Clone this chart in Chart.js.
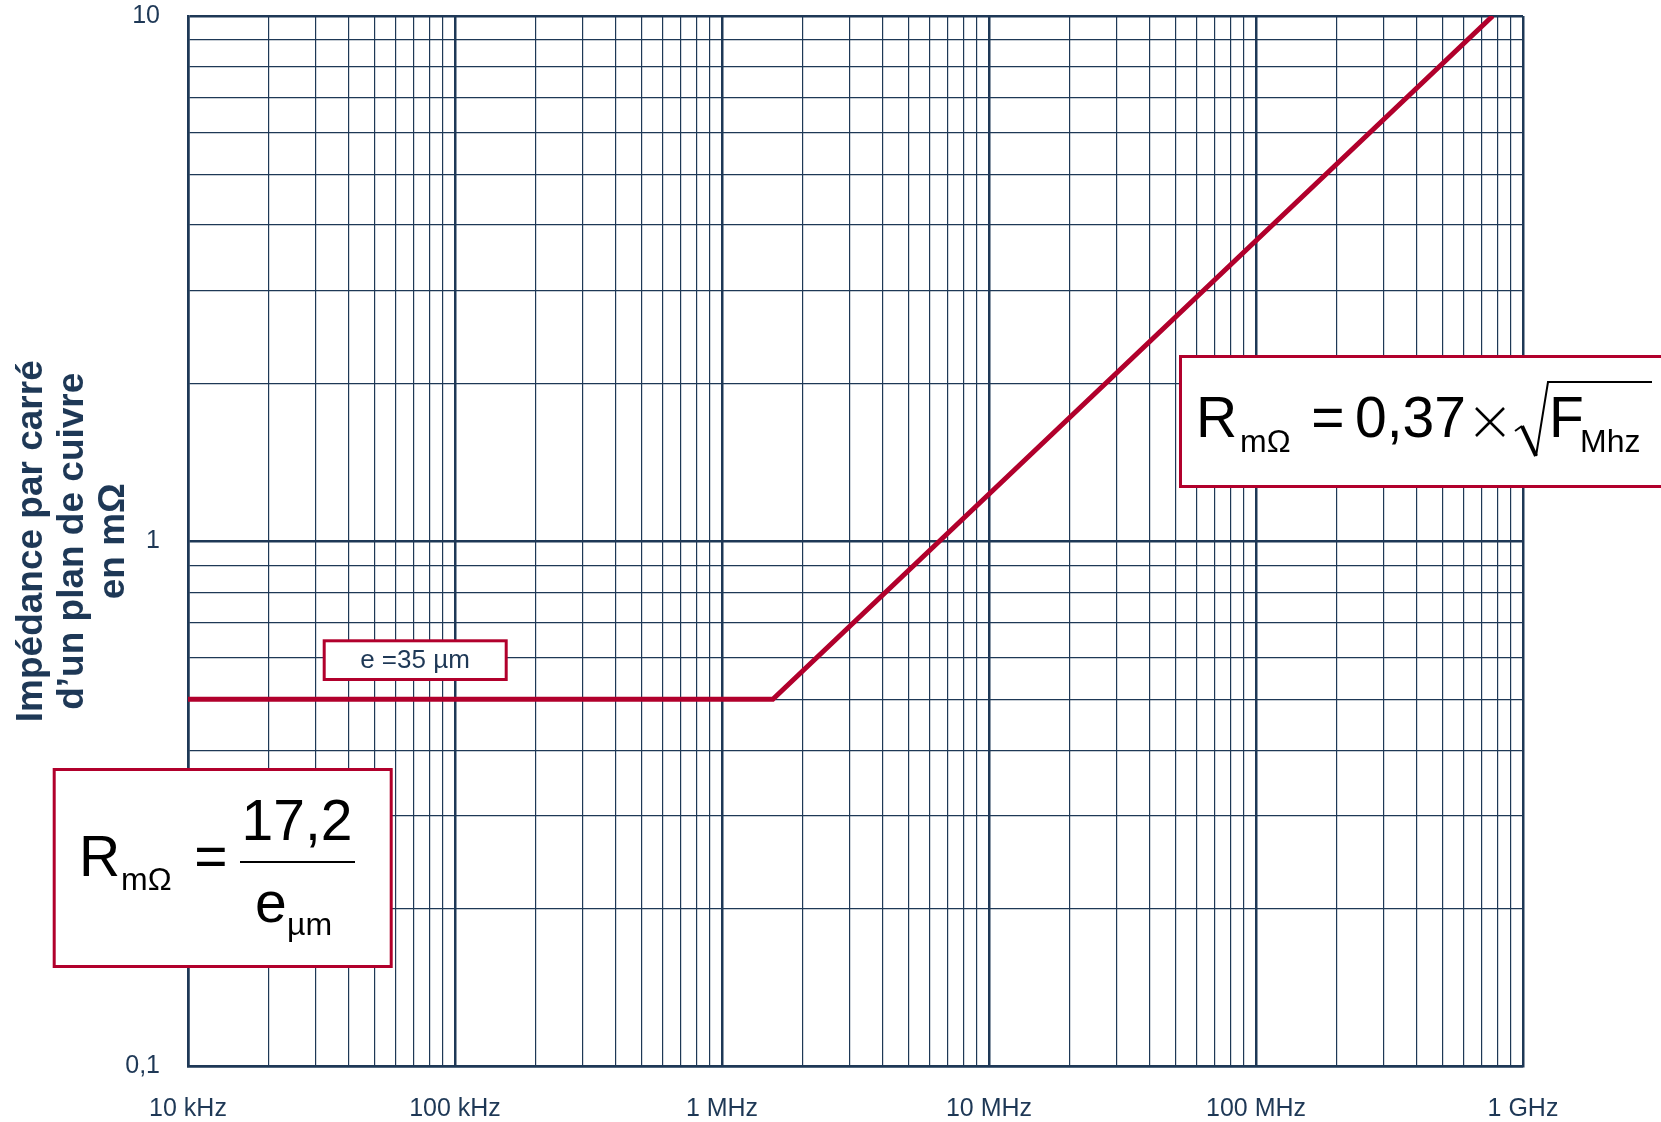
<!DOCTYPE html>
<html><head><meta charset="utf-8">
<script src="https://cdn.jsdelivr.net/npm/chart.js@4/dist/chart.umd.min.js"></script>
<style>html,body{margin:0;padding:0;background:#fff;overflow:hidden}#wrap{width:1661px;height:1122px;position:relative}</style>
</head><body><div id="wrap"><canvas id="c" width="1661" height="1122"></canvas></div>
<script>
// ---- data ----
const frequencyHz = [1e4, 1.55e6, 7.7e8];
const impedanceMilliOhm = [0.5, 0.5, 10];
const xDecadeTicks = [1e4, 1e5, 1e6, 1e7, 1e8, 1e9];
const xDecadeLabels = ['10 kHz', '100 kHz', '1 MHz', '10 MHz', '100 MHz', '1 GHz'];
const yDecadeTicks = [0.1, 1, 10];
const yDecadeLabels = ['0,1', '1', '10'];
const yTitleLines = ['Impédance par carré', 'd’un plan de cuivre', 'en mΩ'];
const thicknessLabel = 'e =35 µm';

const NAVY = '#1e3856';
const RED = '#b1002c';
const FONT = "'Liberation Sans', Arial, sans-serif";

function logGrid(decades) {
  const out = [];
  for (let i = 0; i < decades.length - 1; i++) {
    for (let k = 1; k < 10; k++) out.push(decades[i] * k);
  }
  out.push(decades[decades.length - 1]);
  return out;
}
function isDecade(v) {
  const l = Math.log10(v);
  return Math.abs(l - Math.round(l)) < 1e-9;
}
function labelFor(list, labels, value) {
  const i = list.findIndex(t => Math.abs(t - value) / t < 1e-9);
  return i >= 0 ? labels[i] : '';
}

const annotations = {
  id: 'annotations',
  afterDraw(chart) {
    const ctx = chart.ctx;
    ctx.save();
    // thickness label box
    ctx.fillStyle = '#fff';
    ctx.fillRect(324.2, 640.8, 182, 38.7);
    ctx.strokeStyle = RED; ctx.lineWidth = 3;
    ctx.strokeRect(324.2, 640.8, 182, 38.7);
    ctx.fillStyle = NAVY;
    ctx.font = '26px ' + FONT;
    ctx.textAlign = 'center'; ctx.textBaseline = 'middle';
    ctx.fillText(thicknessLabel, 415, 661);

    // right formula box
    ctx.fillStyle = '#fff';
    ctx.fillRect(1180.5, 356.5, 520, 130);
    ctx.strokeStyle = RED; ctx.lineWidth = 3;
    ctx.strokeRect(1180.5, 356.5, 520, 130);
    ctx.fillStyle = '#000';
    ctx.textBaseline = 'alphabetic';
    ctx.textAlign = 'left';
    ctx.font = '57px ' + FONT;
    ctx.fillText('R', 1196, 437);
    ctx.font = '32px ' + FONT;
    ctx.fillText('mΩ', 1240, 452);
    ctx.font = '57px ' + FONT;
    ctx.textAlign = 'center';
    ctx.fillText('=', 1328, 437);
    ctx.textAlign = 'left';
    ctx.fillText('0,37', 1355, 437);
    ctx.fillText('F', 1549, 437);
    ctx.font = '32px ' + FONT;
    ctx.fillText('Mhz', 1580, 452);
    // multiplication sign
    ctx.strokeStyle = '#000';
    ctx.lineWidth = 2.5;
    ctx.lineCap = 'butt';
    ctx.beginPath();
    ctx.moveTo(1476, 408); ctx.lineTo(1504, 436);
    ctx.moveTo(1504, 408); ctx.lineTo(1476, 436);
    ctx.stroke();
    // radical sign
    ctx.lineJoin = 'miter';
    ctx.lineWidth = 2;
    ctx.beginPath();
    ctx.moveTo(1515, 431); ctx.lineTo(1522, 426);
    ctx.stroke();
    ctx.lineWidth = 4;
    ctx.beginPath();
    ctx.moveTo(1522, 426); ctx.lineTo(1536, 456);
    ctx.stroke();
    ctx.lineWidth = 2;
    ctx.beginPath();
    ctx.moveTo(1536, 456); ctx.lineTo(1548, 382); ctx.lineTo(1652, 382);
    ctx.stroke();

    // left formula box
    ctx.fillStyle = '#fff';
    ctx.fillRect(54.2, 769.5, 337, 197);
    ctx.strokeStyle = RED; ctx.lineWidth = 3;
    ctx.strokeRect(54.2, 769.5, 337, 197);
    ctx.fillStyle = '#000';
    ctx.textAlign = 'left';
    ctx.font = '57px ' + FONT;
    ctx.fillText('R', 79, 876);
    ctx.font = '32px ' + FONT;
    ctx.fillText('mΩ', 121, 890);
    ctx.font = '57px ' + FONT;
    ctx.textAlign = 'center';
    ctx.fillText('=', 211, 876);
    ctx.fillText('17,2', 297, 840);
    ctx.textAlign = 'left';
    ctx.fillText('e', 255, 922);
    ctx.font = '32px ' + FONT;
    ctx.fillText('µm', 287, 935);
    ctx.strokeStyle = '#000'; ctx.lineWidth = 2;
    ctx.beginPath();
    ctx.moveTo(240, 862); ctx.lineTo(355, 862);
    ctx.stroke();
    ctx.restore();
  }
};

const gridOpts = {
  color: NAVY,
  lineWidth: c => (c.tick && isDecade(c.tick.value)) ? 2.5 : 1.2,
  drawTicks: false
};

new Chart(document.getElementById('c'), {
  type: 'scatter',
  data: {
    datasets: [{
      data: frequencyHz.map((f, i) => ({x: f, y: impedanceMilliOhm[i]})),
      showLine: true,
      borderColor: RED,
      borderWidth: 5,
      pointRadius: 0,
      fill: false,
      tension: 0
    }]
  },
  options: {
    responsive: false,
    animation: false,
    devicePixelRatio: 1,
    layout: {padding: {left: 0, right: 138, top: 16, bottom: 0}},
    plugins: {legend: {display: false}, tooltip: {enabled: false}},
    scales: {
      x: {
        type: 'logarithmic',
        min: 1e4, max: 1e9,
        afterBuildTicks: s => { s.ticks = logGrid(xDecadeTicks).map(v => ({value: v})); },
        afterFit: s => { s.height = 55.5; s.paddingLeft = 0; s.paddingRight = 0; },
        grid: gridOpts,
        border: {display: true, color: NAVY, width: 2.5},
        ticks: {
          autoSkip: false, maxRotation: 0, minRotation: 0,
          padding: 28,
          color: NAVY,
          font: {family: FONT, size: 25},
          callback: v => labelFor(xDecadeTicks, xDecadeLabels, v)
        }
      },
      y: {
        type: 'logarithmic',
        min: 0.1, max: 10,
        afterBuildTicks: s => { s.ticks = logGrid(yDecadeTicks).map(v => ({value: v})); },
        afterFit: s => { s.width = 188; s.paddingTop = 0; s.paddingBottom = 0; },
        grid: gridOpts,
        border: {display: true, color: NAVY, width: 2.5},
        title: {
          display: true,
          text: yTitleLines,
          color: NAVY,
          font: {family: FONT, size: 37, weight: 'bold', lineHeight: '41px'},
          padding: {top: 11.5, bottom: 0}
        },
        ticks: {
          autoSkip: false,
          padding: 28,
          color: NAVY,
          font: {family: FONT, size: 25},
          callback: v => labelFor(yDecadeTicks, yDecadeLabels, v)
        }
      }
    }
  },
  plugins: [annotations]
});
</script>
</body></html>
